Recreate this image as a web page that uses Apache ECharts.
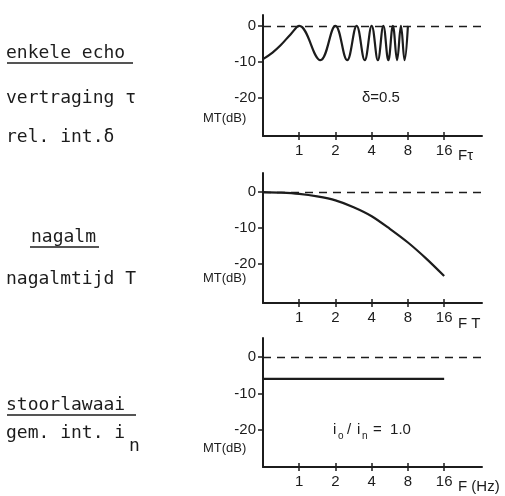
<!DOCTYPE html>
<html>
<head>
<meta charset="utf-8">
<script src="https://cdn.jsdelivr.net/npm/echarts@6/dist/echarts.min.js"></script>
<style>
  html, body { margin: 0; padding: 0; background: #fff; }
  #chart { width: 505px; height: 496px; }
</style>
</head>
<body>
<div id="chart"></div>
<script>
// tick labels
const fTicks = [1, 2, 4, 8, 16];
const dbTicks = [-20, -10, 0];

// enkele echo (delta = 0.5)
const echoF = [0.5, 0.6, 0.7, 0.85, 1, 1.5, 2, 2.5, 3, 3.5, 4, 4.5, 5, 5.5, 6, 6.5, 7, 7.5, 8];
const echoDb = [-9.2, -7.4, -5.4, -2.3, 0, -9.5, 0, -9.5, 0, -9.5, 0, -9.5, 0, -9.5, 0, -9.5, 0, -9.5, 0];

// nagalm
const reverbF = [0.5, 0.71, 1, 1.41, 2, 2.83, 4, 5.66, 8, 11.3, 16];
const reverbDb = [0, -0.15, -0.5, -1.2, -2.3, -4.2, -6.7, -10.2, -14, -18.4, -23.3];

// stoorlawaai (i0/in = 1.0)
const noiseF = [0.5, 16];
const noiseDb = [-6, -6];

const ink = "#1c1c1c";
const panels = [
  { top: 15, height: 121, yMin: -30.5, yMax: 3, F: echoF, db: echoDb, smooth: 0.4 },
  { top: 173, height: 130, yMin: -30.8, yMax: 5.3, F: reverbF, db: reverbDb, smooth: 0.3 },
  { top: 338, height: 129, yMin: -30.1, yMax: 5.2, F: noiseF, db: noiseDb, smooth: false }
];

const grid = [], xAxis = [], yAxis = [], series = [];
panels.forEach((p, i) => {
  grid.push({ left: 263, width: 219, top: p.top, height: p.height });
  const xBase = {
    type: "log", logBase: 2, min: 0.5, max: 33, gridIndex: i,
    position: "bottom",
    splitLine: { show: false }
  };
  xAxis.push(Object.assign({}, xBase, {
    axisLine: { onZero: false, lineStyle: { color: ink, width: 2 } },
    axisTick: { show: true, length: 4, customValues: fTicks, lineStyle: { color: ink, width: 1.5 } },
    axisLabel: { customValues: fTicks, color: ink, fontSize: 15, margin: 7, fontFamily: "Liberation Sans" }
  }));
  // second axis only for the inner half of the ticks
  xAxis.push(Object.assign({}, xBase, {
    axisLine: { show: false, onZero: false },
    axisTick: { show: true, inside: true, length: 4, customValues: fTicks, lineStyle: { color: ink, width: 1.5 } },
    axisLabel: { show: false }
  }));
  yAxis.push({
    type: "value", min: p.yMin, max: p.yMax, gridIndex: i,
    splitLine: { show: false },
    axisLine: { show: true, onZero: false, lineStyle: { color: ink, width: 2 } },
    axisTick: { show: true, length: 5, customValues: dbTicks, lineStyle: { color: ink, width: 1.5 } },
    axisLabel: { customValues: dbTicks, color: ink, fontSize: 15, margin: 7, fontFamily: "Liberation Sans" }
  });
  series.push({
    type: "line",
    xAxisIndex: i * 2,
    yAxisIndex: i,
    data: p.F.map((f, k) => [f, p.db[k]]),
    smooth: p.smooth,
    showSymbol: false,
    lineStyle: { color: ink, width: 2.2 },
    markLine: {
      silent: true,
      symbol: "none",
      label: { show: false },
      lineStyle: { color: ink, type: [8, 6], width: 1.3 },
      data: [{ yAxis: 0 }]
    }
  });
});

const txt = (text, x, y, extra) => ({
  type: "text",
  style: Object.assign({
    text: text, x: x, y: y, fill: ink,
    font: "15px 'Liberation Sans'", verticalAlign: "middle"
  }, extra || {})
});
const mono = "18px 'DejaVu Sans Mono'";
const uline = (x1, x2, y) => ({
  type: "line",
  shape: { x1: x1, y1: y, x2: x2, y2: y },
  style: { stroke: ink, lineWidth: 1.5 }
});

const graphic = [
  // left column
  txt("enkele echo", 6, 53, { font: mono }),
  uline(7, 133, 63),
  txt("vertraging τ", 6, 98, { font: mono }),
  txt("rel. int.δ", 6, 137, { font: mono }),
  txt("nagalm", 31, 237, { font: mono }),
  uline(30, 99, 247),
  txt("nagalmtijd T", 6, 279, { font: mono }),
  txt("stoorlawaai", 6, 405, { font: mono }),
  uline(7, 136, 415),
  txt("gem. int. i", 6, 433, { font: mono }),
  txt("n", 129, 446, { font: mono }),
  // axis names
  txt("MT(dB)", 203, 118, { font: "13px 'Liberation Sans'" }),
  txt("MT(dB)", 203, 278, { font: "13px 'Liberation Sans'" }),
  txt("MT(dB)", 203, 448, { font: "13px 'Liberation Sans'" }),
  txt("Fτ", 458, 156),
  txt("F T", 458, 324),
  txt("F (Hz)", 458, 487),
  // annotations
  txt("δ=0.5", 362, 98),
  txt("i", 333, 430),
  txt("o", 338, 436, { font: "10px 'Liberation Sans'" }),
  txt("/", 347, 430),
  txt("i", 357, 430),
  txt("n", 362, 436, { font: "10px 'Liberation Sans'" }),
  txt("=  1.0", 373, 430)
];

const chart = echarts.init(document.getElementById("chart"));
chart.setOption({
  backgroundColor: "#fff",
  animation: false,
  grid: grid,
  xAxis: xAxis,
  yAxis: yAxis,
  series: series,
  graphic: graphic
});
</script>
</body>
</html>
